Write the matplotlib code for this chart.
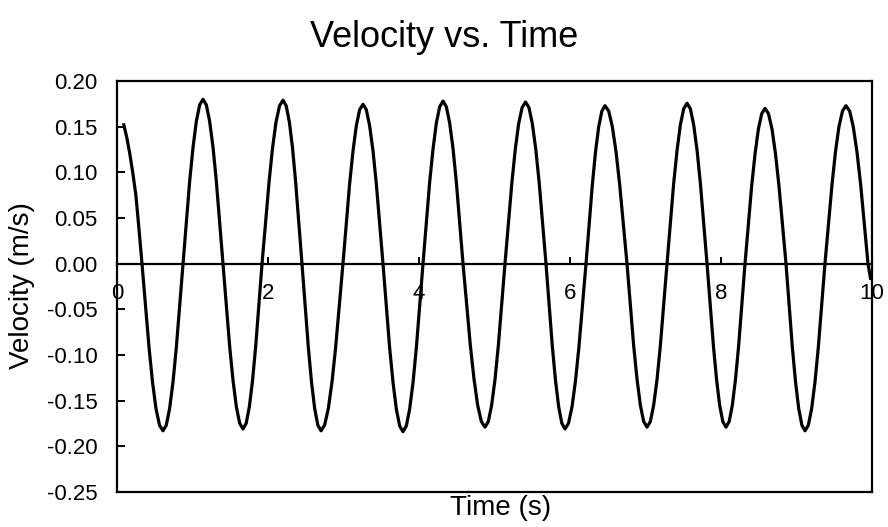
import matplotlib
matplotlib.use("Agg")
import matplotlib.pyplot as plt

plt.rcParams['font.family'] = ['Liberation Sans', 'DejaVu Sans']

# velocity readings (s, m/s)
time = [
    0.09, 0.13, 0.17, 0.21, 0.25, 0.29, 0.331,
    0.424, 0.470, 0.516, 0.563, 0.609, 0.653, 0.697, 0.742, 0.786, 0.874,
    0.962, 1.007, 1.051, 1.095, 1.139, 1.183, 1.227, 1.272, 1.316, 1.404,
    1.492, 1.537, 1.581, 1.625, 1.669, 1.711, 1.753, 1.795, 1.837, 1.921,
    2.014, 2.060, 2.106, 2.153, 2.199, 2.241, 2.283, 2.325, 2.366, 2.450,
    2.534, 2.576, 2.618, 2.660, 2.702, 2.750, 2.799, 2.848, 2.896, 2.993,
    3.081, 3.126, 3.170, 3.214, 3.258, 3.302, 3.346, 3.391, 3.435, 3.523,
    3.611, 3.656, 3.700, 3.744, 3.788, 3.832, 3.876, 3.921, 3.965, 4.053,
    4.141, 4.186, 4.230, 4.274, 4.318, 4.362, 4.406, 4.451, 4.495, 4.583,
    4.680, 4.729, 4.777, 4.826, 4.874, 4.918, 4.962, 5.007, 5.051, 5.139,
    5.230, 5.275, 5.320, 5.366, 5.411, 5.456, 5.501, 5.547, 5.592, 5.682,
    5.766, 5.808, 5.850, 5.892, 5.934, 5.980, 6.027, 6.073, 6.119, 6.212,
    6.296, 6.338, 6.380, 6.422, 6.464, 6.513, 6.561, 6.610, 6.658, 6.755,
    6.843, 6.888, 6.932, 6.976, 7.020, 7.064, 7.108, 7.153, 7.197, 7.285,
    7.373, 7.418, 7.462, 7.506, 7.550, 7.594, 7.638, 7.683, 7.727, 7.815,
    7.899, 7.941, 7.982, 8.024, 8.066, 8.108, 8.150, 8.192, 8.234, 8.318,
    8.406, 8.451, 8.495, 8.539, 8.583, 8.629, 8.676, 8.722, 8.768, 8.861,
    8.945, 8.987, 9.029, 9.071, 9.113, 9.157, 9.201, 9.245, 9.289, 9.377,
    9.470, 9.516, 9.562, 9.609, 9.655, 9.704, 9.752, 9.801, 9.850, 9.947,
    9.98,
]
velocity = [
    0.152, 0.138, 0.120, 0.099, 0.075, 0.039, 0.0,
    -0.0915, -0.1294, -0.1585, -0.1768, -0.183, -0.1768, -0.1585, -0.1294, -0.0915, 0.0,
    0.090, 0.1273, 0.1559, 0.1739, 0.180, 0.1739, 0.1559, 0.1273, 0.090, 0.0,
    -0.0905, -0.1280, -0.1567, -0.1748, -0.181, -0.1748, -0.1567, -0.1280, -0.0905, 0.0,
    0.0895, 0.1266, 0.1550, 0.1729, 0.179, 0.1729, 0.1550, 0.1266, 0.0895, 0.0,
    -0.0915, -0.1294, -0.1585, -0.1768, -0.183, -0.1768, -0.1585, -0.1294, -0.0915, 0.0,
    0.0873, 0.1234, 0.1511, 0.1686, 0.1745, 0.1686, 0.1511, 0.1234, 0.0873, 0.0,
    -0.092, -0.1301, -0.1593, -0.1777, -0.184, -0.1777, -0.1593, -0.1301, -0.092, 0.0,
    0.089, 0.1258, 0.1541, 0.1719, 0.178, 0.1719, 0.1541, 0.1258, 0.089, 0.0,
    -0.0895, -0.1266, -0.1550, -0.1729, -0.179, -0.1729, -0.1550, -0.1266, -0.0895, 0.0,
    0.0885, 0.1251, 0.1533, 0.1710, 0.177, 0.1710, 0.1533, 0.1251, 0.0885, 0.0,
    -0.0905, -0.1280, -0.1567, -0.1748, -0.181, -0.1748, -0.1567, -0.1280, -0.0905, 0.0,
    0.0865, 0.1223, 0.1498, 0.1671, 0.173, 0.1671, 0.1498, 0.1223, 0.0865, 0.0,
    -0.0895, -0.1266, -0.1550, -0.1729, -0.179, -0.1729, -0.1550, -0.1266, -0.0895, 0.0,
    0.0878, 0.1241, 0.1521, 0.1696, 0.1756, 0.1696, 0.1521, 0.1241, 0.0878, 0.0,
    -0.0895, -0.1266, -0.1550, -0.1729, -0.179, -0.1729, -0.1550, -0.1266, -0.0895, 0.0,
    0.085, 0.1202, 0.1472, 0.1642, 0.170, 0.1642, 0.1472, 0.1202, 0.085, 0.0,
    -0.0915, -0.1294, -0.1585, -0.1768, -0.183, -0.1768, -0.1585, -0.1294, -0.0915, 0.0,
    0.0865, 0.1223, 0.1498, 0.1671, 0.173, 0.1671, 0.1498, 0.1223, 0.0865, 0.0,
    -0.016,
]

x_ticks = [0, 2, 4, 6, 8, 10]
y_ticks = [0.20, 0.15, 0.10, 0.05, 0.00, -0.05, -0.10, -0.15, -0.20, -0.25]

fig = plt.figure(figsize=(8.88, 5.27), dpi=100)
ax = fig.add_axes([117 / 888, 1 - 492 / 527, 755 / 888, 411 / 527])

ax.plot(time, velocity, color='black', lw=2.3, solid_joinstyle='round')

ax.set_xlim(0, 10)
ax.set_ylim(-0.25, 0.20)
ax.set_xticks(x_ticks)
ax.set_yticks(y_ticks)
ax.set_yticklabels([f"{v:.2f}" for v in y_ticks])

# x axis runs through zero, box closed at the bottom
ax.spines['bottom'].set_position(('data', 0))
ax.axhline(-0.25, color='black', lw=1.6, clip_on=False)
for s in ax.spines.values():
    s.set_linewidth(1.6)

ax.tick_params(axis='both', direction='in', labelsize=16, width=1.4)
ax.tick_params(axis='x', length=5, pad=14)
ax.tick_params(axis='y', length=6, pad=14)

fig.text(0.5, 1 - 47 / 527, "Velocity vs. Time", fontsize=26,
         ha='center', va='baseline')
fig.text(501 / 888, 1 - 508 / 527, "Time (s)", fontsize=20,
         ha='center', va='center')
fig.text(22 / 888, 1 - 286 / 527, "Velocity (m/s)", fontsize=20,
         ha='center', va='center', rotation=90)

fig.savefig("out.png", dpi=100)
